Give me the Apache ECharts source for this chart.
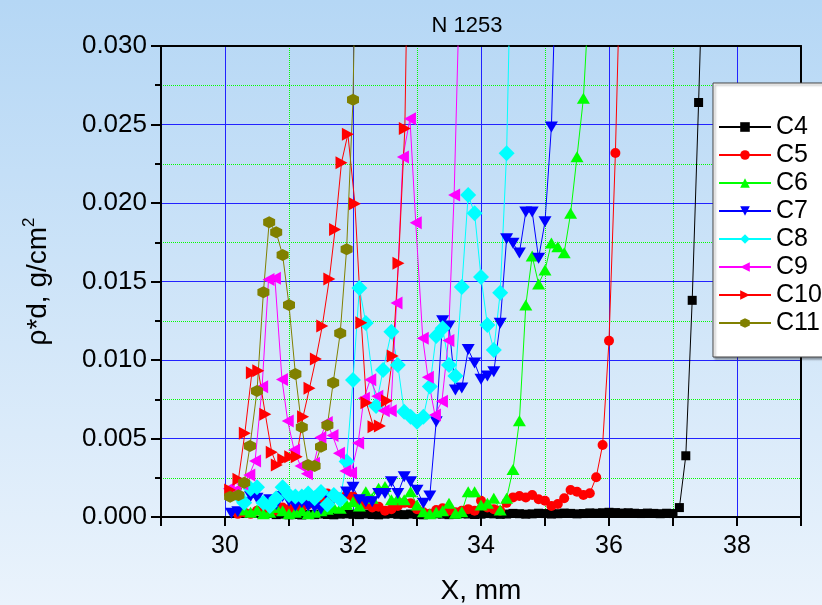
<!DOCTYPE html>
<html>
<head>
<meta charset="utf-8">
<script src="https://cdn.jsdelivr.net/npm/echarts@6/dist/echarts.min.js"></script>
<style>html,body{margin:0;padding:0;}#c{width:822px;height:605px;}</style>
</head>
<body>
<div id="c"></div>
<script>
// ---------- data ----------
const seriesNames = ['C4','C5','C6','C7','C8','C9','C10','C11'];

const c4X = [30.8,30.9,31.0,31.1,31.2,31.3,31.4,31.5,31.6,31.7,31.8,31.9,32.0,32.1,32.2,32.3,32.4,32.5,32.6,32.7,32.8,32.9,33.0,33.1,33.2,33.3,33.4,33.5,33.6,33.7,33.8,33.9,34.0,34.1,34.2,34.3,34.4,34.5,34.6,34.7,34.8,34.9,35.0,35.1,35.2,35.3,35.4,35.5,35.6,35.7,35.8,35.9,36.0,36.1,36.2,36.3,36.4,36.5,36.6,36.7,36.8,36.9,37.0,37.1,37.2,37.3,37.4,37.5];
const c4Y = [0.00015,0.00018,0.00014,0.00016,0.00013,0.00017,0.00015,0.00019,0.00016,0.00014,0.00018,0.00020,0.00017,0.00015,0.00019,0.00016,0.00014,0.00018,0.00021,0.00017,0.00015,0.00019,0.00016,0.00014,0.00017,0.00020,0.00018,0.00015,0.00017,0.00021,0.00019,0.00016,0.00018,0.00022,0.00020,0.00017,0.00019,0.00023,0.00021,0.00018,0.00020,0.00024,0.00022,0.00019,0.00021,0.00025,0.00023,0.00020,0.00022,0.00026,0.00024,0.00027,0.00030,0.00028,0.00025,0.00027,0.00024,0.00022,0.00025,0.00023,0.00021,0.00024,0.00022,0.0006,0.0039,0.0138,0.0264,0.040];

const c5X = [30.2,30.3,30.4,30.5,30.6,30.7,30.8,30.9,31.0,31.1,31.2,31.3,31.4,31.5,31.6,31.7,31.8,31.9,32.0,32.1,32.2,32.3,32.4,32.5,32.6,32.7,32.8,32.9,33.0,33.1,33.2,33.3,33.4,33.5,33.6,33.7,33.8,33.9,34.0,34.1,34.2,34.3,34.4,34.5,34.6,34.7,34.8,34.9,35.0,35.1,35.2,35.3,35.4,35.5,35.6,35.7,35.8,35.9,36.0,36.1,36.2];
const c5Y = [0.0002,0.0003,0.0002,0.0004,0.0003,0.0005,0.0004,0.0006,0.0005,0.0007,0.0006,0.0008,0.0010,0.0011,0.0015,0.0013,0.0012,0.0014,0.0013,0.0010,0.0008,0.0006,0.00066,0.0004,0.0005,0.0007,0.0009,0.00087,0.0005,0.0003,0.0002,0.00045,0.00055,0.0004,0.0003,0.0004,0.0005,0.0004,0.00104,0.0006,0.0005,0.0004,0.0009,0.00125,0.00134,0.00125,0.0014,0.00113,0.00104,0.0007,0.00083,0.00119,0.00172,0.00161,0.0014,0.00151,0.00253,0.00459,0.01123,0.02318,0.039];

const c6X = [30.3,30.4,30.5,30.6,30.7,30.8,30.9,31.0,31.1,31.2,31.3,31.4,31.5,31.6,31.7,31.8,31.9,32.0,32.1,32.2,32.3,32.4,32.5,32.6,32.7,32.8,32.9,33.0,33.1,33.2,33.3,33.4,33.5,33.6,33.7,33.8,33.9,34.0,34.1,34.2,34.3,34.4,34.5,34.6,34.7,34.8,34.9,35.0,35.1,35.2,35.3,35.4,35.5,35.6,35.7];
const c6Y = [0.00045,0.0003,0.00045,0.0002,0.0003,0.0006,0.0004,0.0002,0.0003,0.0004,0.0002,0.0003,0.0004,0.0005,0.0006,0.00055,0.0008,0.00097,0.0007,0.00161,0.0012,0.00183,0.00194,0.0011,0.00119,0.0011,0.00161,0.00076,0.00034,0.0002,0.0003,0.0004,0.00087,0.00024,0.00034,0.00161,0.00161,0.00076,0.00087,0.00119,0.00045,0.00119,0.00303,0.00613,0.0135,0.01662,0.01484,0.01573,0.01745,0.01722,0.01683,0.01934,0.02295,0.02667,0.034];

const c7X = [30.1,30.2,30.3,30.4,30.5,30.6,30.7,30.8,30.9,31.0,31.1,31.2,31.3,31.4,31.5,31.6,31.7,31.8,31.9,32.0,32.1,32.2,32.3,32.4,32.5,32.6,32.7,32.8,32.9,33.0,33.1,33.2,33.3,33.4,33.5,33.6,33.7,33.8,33.9,34.0,34.1,34.2,34.3,34.4,34.5,34.6,34.7,34.8,34.9,35.0,35.1,35.2];
const c7Y = [0.00024,0.00034,0.0009,0.0013,0.0012,0.0009,0.0011,0.0008,0.0013,0.0010,0.0007,0.0009,0.0007,0.0006,0.0005,0.0013,0.0012,0.0011,0.0016,0.0019,0.0011,0.00097,0.00097,0.0015,0.0015,0.00225,0.0015,0.00257,0.00225,0.0017,0.00087,0.00134,0.00607,0.0125,0.01217,0.00809,0.00822,0.01067,0.00981,0.00877,0.00898,0.00925,0.01234,0.01773,0.01743,0.01682,0.01943,0.01943,0.01648,0.01881,0.02484,0.039];

const c8X = [30.2,30.3,30.4,30.5,30.6,30.7,30.8,30.9,31.0,31.1,31.2,31.3,31.4,31.5,31.6,31.7,31.8,31.9,32.0,32.1,32.2,32.36,32.47,32.6,32.7,32.8,32.9,33.0,33.1,33.2,33.3,33.4,33.5,33.6,33.7,33.8,33.9,34.0,34.1,34.2,34.3,34.4,34.5];
const c8Y = [0.0014,0.0009,0.0018,0.0019,0.0009,0.0007,0.0012,0.0019,0.0014,0.0013,0.0013,0.0015,0.0012,0.0016,0.0008,0.0014,0.0011,0.00354,0.00873,0.01459,0.01236,0.00707,0.00936,0.0118,0.00968,0.0067,0.00639,0.00607,0.00639,0.00831,0.01153,0.01202,0.00968,0.00898,0.01465,0.02051,0.01934,0.01529,0.01223,0.01064,0.01428,0.02317,0.042];

const c9X = [30.06,30.16,30.27,30.38,30.47,30.58,30.68,30.78,30.89,30.98,31.08,31.18,31.28,31.39,31.49,31.59,31.68,31.78,31.88,31.97,32.08,32.17,32.27,32.38,32.48,32.59,32.68,32.78,32.89,32.98,33.09,33.17,33.28,33.39,33.49,33.58,33.68];
const c9Y = [0.0018,0.0017,0.0021,0.00268,0.00357,0.0083,0.01513,0.0152,0.00876,0.00611,0.00427,0.00325,0.00276,0.00342,0.00506,0.00602,0.00519,0.00406,0.00293,0.0028,0.00471,0.00756,0.00875,0.00769,0.00676,0.00676,0.01363,0.02293,0.02537,0.01875,0.01138,0.0089,0.0065,0.00738,0.01125,0.02051,0.036];

const c10X = [30.08,30.21,30.31,30.42,30.52,30.63,30.73,30.81,30.91,31.02,31.12,31.22,31.32,31.42,31.52,31.63,31.72,31.82,31.92,32.03,32.13,32.21,32.32,32.42,32.53,32.62,32.71,32.81,32.91];
const c10Y = [0.00172,0.0024,0.00533,0.00919,0.00932,0.00655,0.00412,0.00331,0.00367,0.00384,0.00384,0.00639,0.0082,0.01006,0.01217,0.01516,0.01831,0.02257,0.02438,0.01996,0.01238,0.00728,0.00575,0.0058,0.00741,0.01025,0.01616,0.02475,0.05];

const c11X = [30.08,30.21,30.30,30.39,30.50,30.60,30.69,30.80,30.90,31.00,31.10,31.20,31.30,31.40,31.50,31.60,31.69,31.80,31.90,32.00,32.10];
const c11Y = [0.00129,0.00138,0.00218,0.00452,0.00803,0.01431,0.01877,0.01813,0.01669,0.0135,0.00911,0.00571,0.00331,0.00325,0.00448,0.00584,0.00855,0.0117,0.01705,0.02658,0.05];

const xTickLabels = [30,32,34,36,38];
const yTickLabels = ['0.000','0.005','0.010','0.015','0.020','0.025','0.030'];

// ---------- styles ----------
const colors = ['#000000','#ff0000','#00ff00','#0000ff','#00ffff','#ff00ff','#ff0000','#808000'];
const symbols = [
  'rect',
  'circle',
  'path://M5,0L10,8.66L0,8.66Z',
  'path://M0,0L10,0L5,8.66Z',
  'path://M5,0L10,5L5,10L0,5Z',
  'path://M0,5L8.66,0L8.66,10Z',
  'path://M8.66,5L0,0L0,10Z',
  'path://M5,0L9.33,2.5L9.33,7.5L5,10L0.67,7.5L0.67,2.5Z'
];
const sizes = [9, 10, [13,11], [13,11], 16, [12,13], [12,13], 12];
const xs = [c4X,c5X,c6X,c7X,c8X,c9X,c10X,c11X];
const ys = [c4Y,c5Y,c6Y,c7Y,c8Y,c9Y,c10Y,c11Y];

const FONT = 'Liberation Sans, Arial, sans-serif';

const series = seriesNames.map((name, i) => ({
  name: name,
  type: 'line',
  xAxisIndex: 0,
  yAxisIndex: 0,
  data: xs[i].map((x, k) => [x, ys[i][k]]),
  symbol: symbols[i],
  symbolSize: sizes[i],
  showSymbol: true,
  showAllSymbol: true,
  clip: true,
  lineStyle: { color: colors[i], width: 1 },
  itemStyle: { color: colors[i] },
  emphasis: { disabled: true },
  animation: false
}));

const chart = echarts.init(document.getElementById('c'), null, { renderer: 'canvas' });
chart.setOption({
  animation: false,
  backgroundColor: {
    type: 'linear', x: 0, y: 0, x2: 0, y2: 1,
    colorStops: [{ offset: 0, color: '#b5d7f5' }, { offset: 1, color: '#eaf3fc' }]
  },
  textStyle: { fontFamily: FONT },
  title: {
    text: 'N 1253',
    left: 462, top: 10, textAlign: 'center',
    textStyle: { fontFamily: FONT, fontSize: 22, fontWeight: 'normal', color: '#000' }
  },
  grid: { left: 161, right: 21, top: 46, bottom: 88, containLabel: false, outerBoundsMode: 'none' },
  legend: {
    orient: 'vertical',
    left: 713, top: 83,
    padding: [30, 60, 20, 5],
    itemGap: 0,
    itemWidth: 52,
    itemHeight: 12,
    backgroundColor: '#ffffff',
    borderColor: '#444444',
    borderWidth: 1,
    shadowColor: 'rgba(0,0,0,0.35)',
    shadowOffsetX: 2,
    shadowOffsetY: 2,
    shadowBlur: 2,
    textStyle: { fontFamily: FONT, fontSize: 25, color: '#000', lineHeight: 28 },
    data: seriesNames
  },
  xAxis: [
    {
      type: 'value', position: 'bottom', min: 29, max: 39, interval: 1,
      name: 'X, mm', nameLocation: 'middle', nameGap: 60,
      nameTextStyle: { fontFamily: FONT, fontSize: 28, color: '#000' },
      axisLine: { show: true, onZero: false, lineStyle: { color: '#000', width: 2 } },
      axisTick: { show: true, inside: false, length: 9, lineStyle: { color: '#000', width: 2 } },
      axisLabel: {
        margin: 17, fontFamily: FONT, fontSize: 25, color: '#000',
        formatter: v => (xTickLabels.indexOf(Math.round(v)) >= 0 && Math.abs(v - Math.round(v)) < 1e-6) ? String(Math.round(v)) : ''
      },
      splitLine: { show: true, showMinLine: false, showMaxLine: false, lineStyle: { color: ['#2222ff', 'rgba(0,0,0,0)'], width: 1, type: 'solid' } }
    },
    {
      type: 'value', position: 'top', min: 29, max: 39, interval: 1,
      axisLine: { show: true, onZero: false, lineStyle: { color: '#000', width: 2 } },
      axisTick: { show: false },
      axisLabel: { show: false },
      splitLine: { show: true, showMinLine: false, showMaxLine: false, lineStyle: { color: ['rgba(0,0,0,0)', '#00ff00'], width: 1, type: 'dotted' } }
    }
  ],
  yAxis: [
    {
      type: 'value', position: 'left', min: 0, max: 0.03, interval: 0.005,
      name: 'ρ*d, g/cm{sup|2}', nameLocation: 'middle', nameGap: 106, nameRotate: 90,
      nameTextStyle: {
        fontFamily: FONT, fontSize: 28, color: '#000',
        rich: { sup: { fontFamily: FONT, fontSize: 17, color: '#000', verticalAlign: 'top', lineHeight: 34 } }
      },
      axisLine: { show: true, onZero: false, lineStyle: { color: '#000', width: 2 } },
      axisTick: { show: true, inside: false, length: 10, lineStyle: { color: '#000', width: 2 } },
      minorTick: { show: true, splitNumber: 2, length: 6, lineStyle: { color: '#000', width: 2 } },
      axisLabel: {
        margin: 14, fontFamily: FONT, fontSize: 26, color: '#000',
        formatter: v => yTickLabels[Math.round(v / 0.005)] || ''
      },
      splitLine: { show: true, showMinLine: false, showMaxLine: false, lineStyle: { color: '#2222ff', width: 1, type: 'solid' } },
      minorSplitLine: { show: true, lineStyle: { color: '#00ff00', width: 1, type: 'dotted' } }
    },
    {
      type: 'value', position: 'right', min: 0, max: 0.03, interval: 0.005,
      axisLine: { show: true, onZero: false, lineStyle: { color: '#000', width: 2 } },
      axisTick: { show: false },
      axisLabel: { show: false },
      splitLine: { show: false }
    }
  ],
  series: series
});
</script>
</body>
</html>
